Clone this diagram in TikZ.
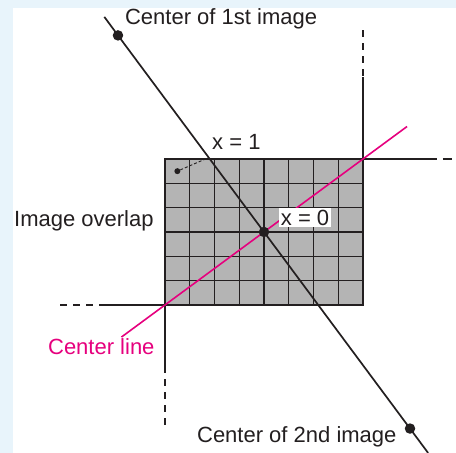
\documentclass[tikz,border=0pt]{standalone}
\usepackage{fontspec}
\setmainfont{Liberation Sans}
\usepackage{tikz}
\usetikzlibrary{positioning, calc}
\definecolor{mydark}{RGB}{35,31,32}
\definecolor{mypink}{RGB}{230,0,126}
\definecolor{mygray}{RGB}{180,180,180}
\definecolor{mybg}{RGB}{232,244,251}
\tikzset{
  lbl/.style={font=\fontsize{22}{26}\selectfont, text=mydark,
    inner sep=0pt, anchor=base west},
  bigdot/.style={circle, fill=mydark, inner sep=0pt, minimum size=10.5pt},
  smalldot/.style={circle, fill=mydark, inner sep=0pt, minimum size=6pt},
  line/.style={line width=1.7pt, color=mydark},
  dashline/.style={line width=1.7pt, color=mydark, dash pattern=on 7pt off 6pt},
  pinkline/.style={line width=1.6pt, color=mypink},
  gridline/.style={line width=1.3pt, color=mydark}
}
\begin{document}
\begin{tikzpicture}[x=24.75pt, y=24.33pt]
  % Frame
  \path[use as bounding box, fill=mybg] (-10.667,-9.083) rectangle (7.758,9.535);
  \fill[white] (-10.141,-9.083) rectangle (7.758,9.207);

  % Overlap area (8 x 6 cells)
  \fill[mygray] (-4,-3) rectangle (4,3);
  \foreach \i in {-3,...,3}
    \draw[gridline] (\i,-3) -- (\i,3);
  \foreach \j in {-2,...,2}
    \draw[gridline] (-4,\j) -- (4,\j);
  \draw[line] (-4,-3) rectangle (4,3);

  % Edges of the two images
  \draw[line] (4,3) -- (4,6.37);
  \draw[dashline] (4,8.3) -- (4,6.37);
  \draw[line] (4,3) -- (6.99,3);
  \draw[line] (7.23,3) -- (7.6,3);
  \draw[line] (-4,-3) -- (-6.42,-3);
  \draw[dashline] (-8.24,-3) -- (-6.42,-3);
  \draw[line] (-4,-3) -- (-4,-5.67);
  \draw[dashline] (-4,-7.93) -- (-4,-5.67);

  % Center line
  \coordinate (pinkbot) at (-5.76,-4.32);
  \coordinate (pinktop) at (5.78,4.335);
  \draw[pinkline] (pinkbot) -- (pinktop);

  % Line through the two image centers
  \coordinate (blktop) at (-6.45,8.84);
  \coordinate (blkbot) at (6.63,-9.08);
  \node[bigdot] (dotone) at (-5.9,8.08) {};
  \node[bigdot] (dotzero) at (0,0) {};
  \node[bigdot] (dottwo) at (5.9,-8.08) {};
  \draw[line] (blktop) -- (dotone.center) -- (dotzero.center) -- (dottwo.center) -- (blkbot);

  % Pixel at x = 1
  \node[smalldot] (celldot) at (-3.5,2.5) {};
  \coordinate (cross) at (-2.25,3.05);
  \draw[line, line width=0.9pt, dash pattern=on 3pt off 2pt] (celldot) -- (cross);

  % Labels
  \node[lbl] (firstlbl) at (-5.62,8.51) {Center of 1st image};
  \node[lbl] (xone) at (-2.10,3.41) {x = 1};
  \node[lbl, fill=white, inner sep=1.5pt, anchor=center] (xzero) at (1.66,0.596) {x = 0};
  \node[lbl] (overlap) at (-10.1,0.21) {Image overlap};
  \node[lbl, text=mypink] (centerlbl) at (-8.73,-5.04) {Center line};
  \node[lbl] (secondlbl) at (-2.71,-8.67) {Center of 2nd image};
\end{tikzpicture}
\end{document}
